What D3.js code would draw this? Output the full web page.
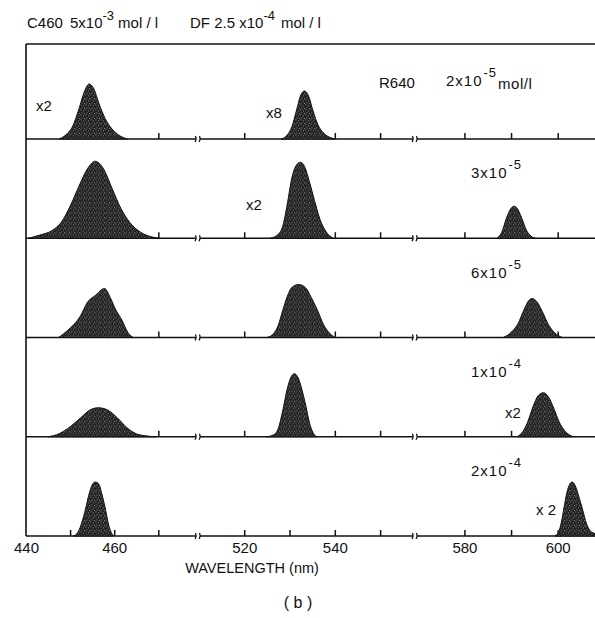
<!DOCTYPE html>
<html>
<head>
<meta charset="utf-8">
<script src="https://cdn.jsdelivr.net/npm/d3@7"></script>
<style>
  body { margin: 0; background: #fff; }
  svg { display: block; font-family: "Liberation Sans", "DejaVu Sans", sans-serif; }
</style>
</head>
<body>
<svg id="chart" width="595" height="618"></svg>
<script>
var chartSvg;
var panelTop = 44;
var firstBase = 139;
var panelStep = 99.25;
var leftX = 26;
var rightX = 595;
//===============================Data===========================

// wavelength ticks (nm) and the ones that carry a label
var tickValues = [450, 460, 470, 520, 530, 540, 550, 580, 590, 600];
var tickLabels = [440, 460, 520, 540, 580, 600];
// axis is cut twice: [end of piece, start of next piece]
var axisBreaks = [[479, 509.8], [557.7, 569.4]];
var axisEnds = [440, 608];

// R640 concentration of each panel, top to bottom
var concBase = ["2x10", "3x10", "6x10", "1x10", "2x10"];
var concExp = ["-5", "-5", "-5", "-4", "-4"];

// spectra as [wavelength nm, intensity], one per panel (null = none)
var c460Spectra = [
  [[447.5,0],[449,4],[450.5,12],[452,30],[453.2,47],[454.3,55],[455.4,50],[456.5,36],[458,20],[459.5,10],[461,4],[463,0]],
  [[440.5,0],[443,3],[446,8],[448,16],[450,32],[452,52],[454,70],[455.7,77],[457.5,70],[459.5,50],[461.5,30],[463.5,16],[466,6],[468,2],[470,0]],
  [[447.4,0],[449.4,7],[452.4,22],[453.9,35],[455.7,42],[457.8,49],[459.1,40],[460.2,29],[461.8,17],[463.1,5],[464.3,0]],
  [[445,0],[447.5,3],[449.4,8],[452.4,19],[454.6,27],[456.4,29],[458.4,27],[460.7,19],[462.9,9],[465,3],[467,1],[469.5,0]],
  [[450.8,0],[451.8,4],[452.7,14],[453.5,27],[454.3,42],[455,51],[455.7,54],[456.5,52],[457.2,42],[458,27],[458.8,10],[459.8,0]]
];
var dfSpectra = [
  [[528.2,0],[529.5,4],[530.5,12],[531.5,28],[532.5,44],[533.3,48],[534.2,43],[535.2,28],[536.3,14],[537.5,6],[539,1.5],[540,0]],
  [[525.8,0],[527.5,4],[528.5,12],[529.5,34],[530.5,60],[531.5,73],[532.4,76],[533.3,72],[534.3,58],[535.5,38],[536.8,18],[538,7],[539.6,0]],
  [[525,0],[526.5,4],[527.5,12],[528.5,27],[529.5,41],[530.5,50],[532,53],[533.5,50],[534.8,40],[536.2,27],[537.5,13],[538.7,5],[540,0]],
  [[525,0],[526.5,2],[527.5,8],[528.5,26],[529.5,48],[530.5,61],[531.1,63],[531.8,60],[532.8,46],[533.6,31],[534.4,14],[535.2,4],[536,0]],
  null
];
var r640Spectra = [
  null,
  [[587,0],[588,6],[589,20],[590,30],[590.6,32],[591.3,30],[592.3,20],[593.3,8],[594.3,2],[595.2,0]],
  [[588.3,0],[590,5],[591.5,14],[592.8,28],[593.8,37],[594.5,39],[595.5,36],[596.7,26],[598,13],[599.3,5],[601,0]],
  [[591.3,0],[592.5,5],[593.5,14],[594.7,30],[595.8,41],[596.9,44],[598,40],[599.2,28],[600.3,15],[601.5,6],[603.3,0]],
  [[599.4,0],[600.2,4],[600.8,14],[601.3,27],[602,44],[602.6,52],[603.1,54],[603.7,51],[604.5,40],[605.3,27],[606.2,12],[607,5],[608,2],[608,0]]
];

// gain factors written next to peaks: [panel, text]
var gainLabels = [[0, "x2"], [0, "x8"], [1, "x2"], [3, "x2"], [4, "x 2"]];
//===============================End of Data===========================



document.addEventListener("DOMContentLoaded", function() {
  chartSvg = d3.select("#chart");
  drawChart();
});



function drawChart() {
  //==========Scales=======================
  // piecewise scale, the cut pieces sit next to each other
  let x = d3.scaleLinear()
    .domain([axisEnds[0], axisBreaks[0][0], axisBreaks[0][1], axisBreaks[1][0], axisBreaks[1][1], axisEnds[1]])
    .range([leftX, 198, 198, 415, 415, rightX]);
  let breakX = axisBreaks.map(b => x(b[0]));

  let y = d3.scaleLinear().domain([0, 95]).range([95, 0]);

  // stipple for the filled peaks
  let pat = chartSvg.append("defs").append("pattern")
    .attr("id", "stipple").attr("width", 5).attr("height", 5)
    .attr("patternUnits", "userSpaceOnUse");
  pat.append("rect").attr("width", 5).attr("height", 5).attr("fill", "#222");
  [[0.5,0.5],[3,1.5],[1.5,3.5],[4,4]].forEach(p => {
    pat.append("rect").attr("x", p[0]).attr("y", p[1]).attr("width", 0.8).attr("height", 0.8).attr("fill", "#bbb");
  });

  let area = d3.area()
    .x(d => x(d[0]))
    .y0(y(0))
    .y1(d => y(d[1]))
    .curve(d3.curveMonotoneX);

  //==========Frame=======================
  chartSvg.append("line")
    .attr("x1", leftX).attr("x2", rightX).attr("y1", panelTop).attr("y2", panelTop)
    .attr("stroke", "#111").attr("stroke-width", 1.6);
  chartSvg.append("line")
    .attr("x1", leftX).attr("x2", leftX).attr("y1", panelTop).attr("y2", firstBase + 4 * panelStep)
    .attr("stroke", "#111").attr("stroke-width", 1.6);

  //==========Panels=======================
  concBase.forEach((c, i) => {
    let base = firstBase + i * panelStep;
    let g = chartSvg.append("g")
      .attr("transform", `translate(0,${base - 95})`);

    // baseline pieces with a gap at each cut
    let pieces = [[leftX, breakX[0] - 2], [breakX[0] + 2, breakX[1] - 2], [breakX[1] + 2, rightX]];
    g.selectAll("line.base").data(pieces).enter().append("line")
      .attr("class", "base")
      .attr("x1", d => d[0]).attr("x2", d => d[1])
      .attr("y1", y(0)).attr("y2", y(0))
      .attr("stroke", "#111").attr("stroke-width", 1.6);
    breakX.forEach(bx => {
      [-2, 2].forEach(o => {
        g.append("path")
          .attr("d", `M${bx + o - 1},${y(0) + 3} Q${bx + o + 1},${y(0)} ${bx + o - 0.5},${y(0) - 3}`)
          .attr("fill", "none").attr("stroke", "#111").attr("stroke-width", 1.2);
      });
    });

    // upward ticks
    g.append("g")
      .attr("transform", `translate(0,${y(0)})`)
      .call(d3.axisBottom(x).tickValues(tickValues).tickSize(-6).tickFormat(""))
      .call(a => a.select(".domain").remove())
      .call(a => a.selectAll(".tick line").attr("stroke", "#111").attr("stroke-width", 1.5));

    // peaks
    [c460Spectra[i], dfSpectra[i], r640Spectra[i]].forEach(s => {
      if (!s) return;
      g.append("path")
        .datum(s)
        .attr("d", area)
        .attr("fill", "url(#stipple)")
        .attr("stroke", "#111")
        .attr("stroke-width", 1);
    });

    // concentration label
    let t = g.append("text")
      .attr("x", i == 0 ? 446 : 471)
      .attr("y", y(0) - (i == 0 ? 53 : 60))
      .style("font-size", "15px")
      .style("letter-spacing", "1px")
      .attr("fill", "#111");
    t.append("tspan").text(c);
    t.append("tspan").attr("dy", -9).attr("dx", 1).style("font-size", "13px").text(concExp[i]);
    if (i == 0) {
      t.append("tspan").attr("dy", 12).attr("dx", 1).style("letter-spacing", "0.5px").text("mol/l");
    }
  });

  //==========Gain Labels=======================
  let gainPos = [[36, 111], [266, 118], [246, 210], [505, 418], [536, 515]];
  chartSvg.selectAll("text.gain").data(gainLabels).enter().append("text")
    .attr("class", "gain")
    .attr("x", (d, k) => gainPos[k][0])
    .attr("y", (d, k) => gainPos[k][1])
    .style("font-size", "15px")
    .attr("fill", "#111")
    .text(d => d[1]);

  chartSvg.append("text")
    .attr("x", 379).attr("y", 88)
    .style("font-size", "15px").attr("fill", "#111")
    .text("R640");

  //==========Bottom Axis Labels=======================
  chartSvg.append("g")
    .attr("transform", `translate(0,${firstBase + 4 * panelStep})`)
    .call(d3.axisBottom(x).tickValues(tickLabels).tickSize(0).tickPadding(6).tickFormat(d3.format("d")))
    .call(a => a.select(".domain").remove())
    .call(a => a.selectAll("text").style("font-size", "15px").attr("fill", "#111")
      .attr("font-family", "\"Liberation Sans\", sans-serif"));

  chartSvg.append("text")
    .attr("x", 252).attr("y", 573)
    .style("text-anchor", "middle")
    .style("font-size", "14.5px").attr("fill", "#111")
    .text("WAVELENGTH (nm)");

  chartSvg.append("text")
    .attr("x", 298).attr("y", 608)
    .style("text-anchor", "middle")
    .style("font-size", "16px").attr("fill", "#111")
    .attr("xml:space", "preserve")
    .text("( b )");

  //==========Header=======================
  let hdr = chartSvg.append("g").style("font-size", "15px").attr("fill", "#111");
  hdr.append("text").attr("x", 27).attr("y", 28).text("C460");
  let h1 = hdr.append("text").attr("x", 70).attr("y", 28);
  h1.append("tspan").text("5x10");
  h1.append("tspan").attr("dy", -8).style("font-size", "13px").text("-3");
  h1.append("tspan").attr("dy", 8).attr("dx", 4).text("mol / l");
  let h2 = hdr.append("text").attr("x", 190).attr("y", 28);
  h2.append("tspan").text("DF 2.5 x10");
  h2.append("tspan").attr("dy", -8).style("font-size", "13px").text("-4");
  h2.append("tspan").attr("dy", 8).attr("dx", 6).text("mol / l");
}
</script>
</body>
</html>
